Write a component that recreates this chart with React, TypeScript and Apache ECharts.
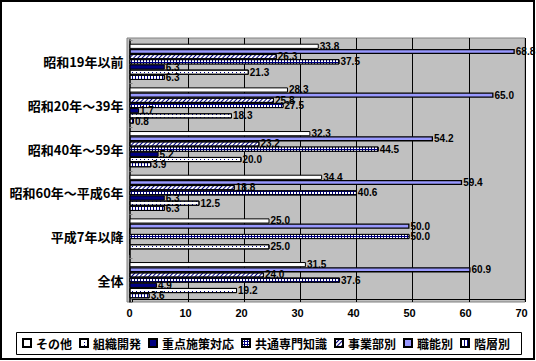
import React, { useEffect, useRef } from 'react';
import * as echarts from 'echarts';

const categories = ['昭和19年以前', '昭和20年～39年', '昭和40年～59年', '昭和60年～平成6年', '平成7年以降', '全体'];
const sonota = [33.8, 28.3, 32.3, 34.4, 25.0, 31.5];
const shokunou = [68.8, 65.0, 54.2, 59.4, 50.0, 60.9];
const jigyoubu = [26.3, 25.8, 23.2, 18.8, 0, 24.0];
const kyoutsuu = [37.5, 27.5, 44.5, 40.6, 50.0, 37.6];
const juuten = [6.3, 1.7, 5.2, 6.3, 0, 4.9];
const soshiki = [21.3, 18.3, 20.0, 12.5, 25.0, 19.2];
const kaisou = [6.3, 0.8, 3.9, 6.3, 0, 3.6];
const legendOrder = ['その他', '組織開発', '重点施策対応', '共通専門知識', '事業部別', '職能別', '階層別'];
const xMin = 0;
const xMax = 70;
const xStep = 10;

const CJK = '"Noto Sans CJK JP", sans-serif';
const NUM = '"Liberation Sans", Arial, sans-serif';

export default function App() {
  const ref = useRef<HTMLDivElement>(null);
  useEffect(() => {
    if (!ref.current) return;
    const chart = echarts.init(ref.current, undefined, { renderer: 'svg' });
    const label = {
      show: true,
      position: 'right',
      distance: 1,
      color: '#000',
      fontSize: 10,
      fontWeight: 'bold',
      fontFamily: NUM,
      formatter: (p: any) => (p.value ? Number(p.value).toFixed(1) : ''),
    };
    const mk = (name: string, data: number[], color: string, decal?: any, bw = 1) => ({
      name,
      type: 'bar',
      xAxisIndex: 0,
      yAxisIndex: 0,
      data,
      barGap: '0%',
      barCategoryGap: '17%',
      itemStyle: { color, borderColor: '#000', borderWidth: bw, decal: decal || 'none' },
      label,
    });
    const series = [
      mk('その他', sonota, '#ffffff'),
      mk('職能別', shokunou, '#9999ff', undefined, 1.3),
      mk('事業部別', jigyoubu, '#ffffff', {
        symbol: 'rect', color: '#000080', dashArrayX: [1, 0], dashArrayY: [1, 2], rotation: -Math.PI / 4,
      }),
      mk('共通専門知識', kyoutsuu, '#000080', {
        symbol: 'rect', color: '#ffffff', dashArrayX: [2, 1], dashArrayY: [2, 1], symbolSize: 1,
      }),
      mk('重点施策対応', juuten, '#000080'),
      mk('組織開発', soshiki, '#ffffff', {
        symbol: 'rect', color: '#000080', dashArrayX: [1, 3], dashArrayY: [1, 2], symbolSize: 1,
      }),
      mk('階層別', kaisou, '#ffffff', {
        symbol: 'rect', color: '#000080', dashArrayX: [1, 2], dashArrayY: [1, 0], symbolSize: 1,
      }),
    ];
    chart.setOption({
      animation: false,
      backgroundColor: '#ffffff',
      grid: [
        { left: 129.5, top: 40, width: 392, height: 262, z: 2 },
        { left: 132, top: 38, width: 393, height: 261, z: 1 },
        {
          left: 127, top: 38, width: 398, height: 264, z: 0,
          show: true, backgroundColor: '#c0c0c0', borderColor: '#808080', borderWidth: 1,
        },
      ],
      xAxis: [
        {
          gridIndex: 0, type: 'value', min: xMin, max: xMax, interval: xStep,
          splitLine: { show: false }, axisLine: { show: false }, axisTick: { show: false },
          axisLabel: { color: '#000', fontSize: 11, fontWeight: 'bold', fontFamily: NUM, margin: 5 },
        },
        {
          gridIndex: 1, type: 'value', min: xMin, max: xMax, interval: xStep,
          splitLine: { show: true, showMinLine: false, lineStyle: { color: '#000', width: 1 } },
          axisLine: { show: true, lineStyle: { color: '#000', width: 1 } },
          axisTick: { show: true, length: 3, lineStyle: { color: '#000' } },
          axisLabel: { show: false },
        },
        { gridIndex: 2, type: 'value', min: xMin, max: xMax, show: false },
      ],
      yAxis: [
        {
          gridIndex: 0, type: 'category', data: categories, inverse: true, offset: 2,
          axisLine: { show: true, lineStyle: { color: '#000', width: 1.5 } },
          axisTick: { show: true, inside: true, length: 3, lineStyle: { color: '#808080' } },
          axisLabel: { color: '#000', fontSize: 13, fontWeight: 'bold', fontFamily: CJK, margin: 4 },
        },
        { gridIndex: 1, type: 'category', data: categories, inverse: true, show: false },
        { gridIndex: 2, type: 'category', data: categories, inverse: true, show: false },
      ],
      legend: {
        data: legendOrder,
        left: 22, top: 336, padding: 0,
        itemWidth: 8, itemHeight: 8, itemGap: 7, icon: 'rect',
        textStyle: { color: '#000', fontSize: 12, fontWeight: 'bold', fontFamily: CJK, lineHeight: 14 },
      },
      graphic: [
        {
          type: 'rect', silent: true,
          shape: { x: 16.5, y: 332.5, width: 505, height: 22 },
          style: { fill: 'none', stroke: '#000', lineWidth: 1 },
        },
        {
          type: 'rect', silent: true,
          shape: { x: 1, y: 1, width: 533, height: 358 },
          style: { fill: 'none', stroke: '#000', lineWidth: 2 },
        },
      ],
      series,
    });
    return () => chart.dispose();
  }, []);
  return (
    <div
      ref={ref}
      style={{ position: 'absolute', left: 0, top: 0, width: 536, height: 361 }}
    />
  );
}
